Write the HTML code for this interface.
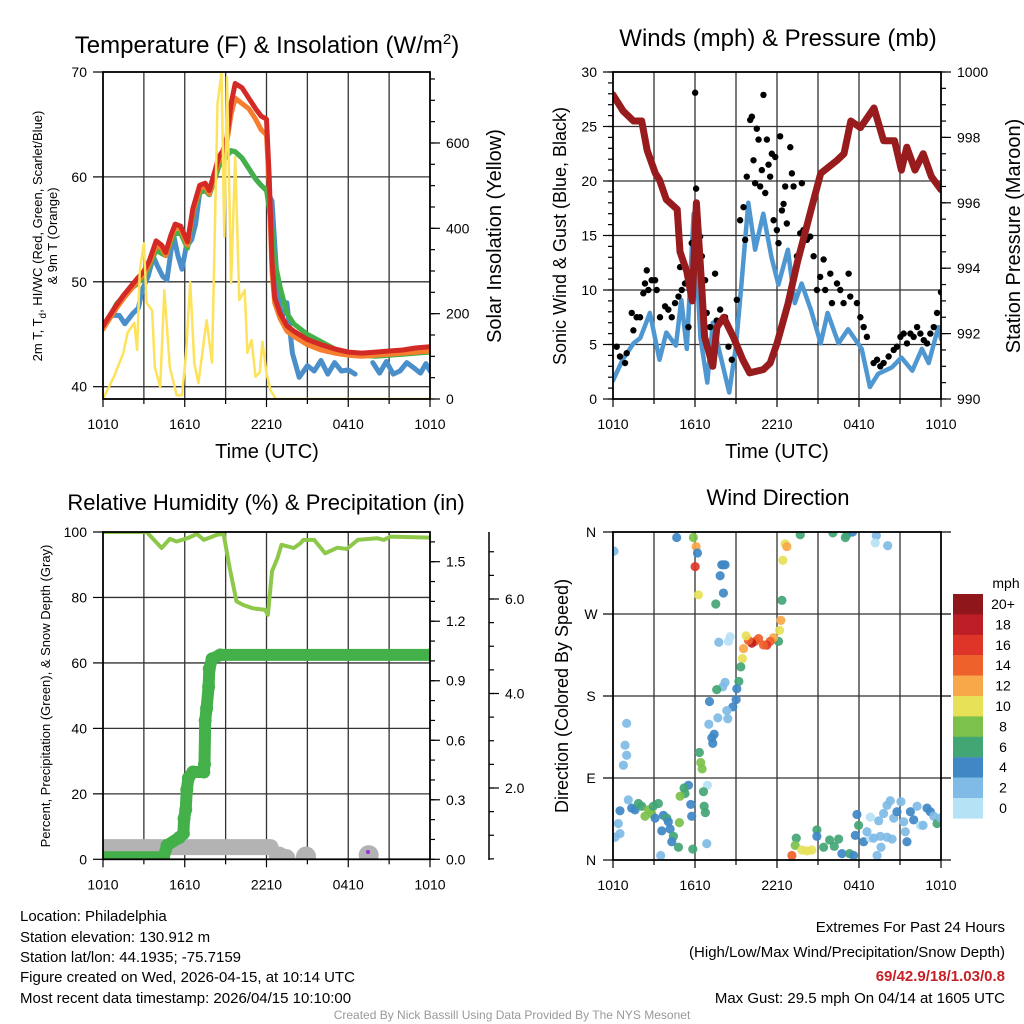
<!DOCTYPE html>
<html><head><meta charset="utf-8"><title>Station meteogram</title>
<style>
html,body{margin:0;padding:0;background:#fff}
svg{display:block;font-family:"Liberation Sans",Arial,sans-serif}
</style></head>
<body>
<svg id="chart" width="1024" height="1024" viewBox="0 0 1024 1024" xmlns="http://www.w3.org/2000/svg">
<rect x="0" y="0" width="1024" height="1024" fill="#fff"/>
<g id="texts" font-family="Liberation Sans, Arial, sans-serif" fill="#000">
<text x="267" y="53" font-size="24" text-anchor="middle">Temperature (F) &amp; Insolation (W/m<tspan dy="-9" font-size="15">2</tspan><tspan dy="9">)</tspan></text>
<text x="778" y="46" font-size="24" text-anchor="middle">Winds (mph) &amp; Pressure (mb)</text>
<text x="266" y="510" font-size="22" text-anchor="middle">Relative Humidity (%) &amp; Precipitation (in)</text>
<text x="778" y="505" font-size="22" text-anchor="middle">Wind Direction</text>
<text x="267" y="458" font-size="20" text-anchor="middle">Time (UTC)</text>
<text x="777" y="458" font-size="20" text-anchor="middle">Time (UTC)</text>
<text transform="translate(42,236) rotate(-90)" font-size="13" text-anchor="middle">2m T, T<tspan dy="4" font-size="10">d</tspan><tspan dy="-4">, HI/WC (Red, Green, Scarlet/Blue)</tspan></text>
<text transform="translate(57,236) rotate(-90)" font-size="13" text-anchor="middle">&amp; 9m T (Orange)</text>
<text transform="translate(501,236) rotate(-90)" font-size="20" text-anchor="middle">Solar Insolation (Yellow)</text>
<text transform="translate(566,236) rotate(-90)" font-size="18" text-anchor="middle">Sonic Wind &amp; Gust (Blue, Black)</text>
<text transform="translate(1020,236) rotate(-90)" font-size="20" text-anchor="middle">Station Pressure (Maroon)</text>
<text transform="translate(50,696) rotate(-90)" font-size="13" text-anchor="middle">Percent, Precipitation (Green), &amp; Snow Depth (Gray)</text>
<text transform="translate(568,696) rotate(-90)" font-size="18" text-anchor="middle">Direction (Colored By Speed)</text>
<g font-size="15">
<text x="20" y="921">Location: Philadelphia</text>
<text x="20" y="942">Station elevation: 130.912 m</text>
<text x="20" y="962">Station lat/lon: 44.1935; -75.7159</text>
<text x="20" y="982">Figure created on Wed, 2026-04-15, at 10:14 UTC</text>
<text x="20" y="1003">Most recent data timestamp: 2026/04/15 10:10:00</text>
</g>
<g font-size="15" text-anchor="end">
<text x="1005" y="932">Extremes For Past 24 Hours</text>
<text x="1005" y="957">(High/Low/Max Wind/Precipitation/Snow Depth)</text>
<text x="1005" y="981" fill="#c62026" font-weight="bold">69/42.9/18/1.03/0.8</text>
<text x="1005" y="1003">Max Gust: 29.5 mph On 04/14 at 1605 UTC</text>
</g>
<text x="512" y="1019" font-size="12" fill="#999" text-anchor="middle">Created By Nick Bassill Using Data Provided By The NYS Mesonet</text>
</g>
</svg>
<script>
// ---------- data ----------
const xTickLabels = ["1010","1610","2210","0410","1010"];
const xTickHours = [0,6,12,18,24];

const redT = [0,1,1.5,2,2.5,3,3.4,3.9,4.3,4.6,5,5.3,5.7,6.2,6.6,7.1,7.5,7.8,8.2,8.5,8.8,9.1,9.4,9.7,10.2,10.7,11.2,11.6,12.0,12.2,12.4,12.6,13,13.5,14,15,16,17,18,19,20,21,22,23,24];
const redV = [45.8,47.8,48.7,49.5,50.3,51,52,53.9,53.5,52.8,54.5,55.5,55.3,53.8,57,59.2,59.4,58.7,60.5,61.9,62.5,63.8,67,68.9,68.5,67.5,66.5,65.8,65.5,60,52,48.5,47,45.8,45.3,44.5,44,43.6,43.3,43.2,43.3,43.4,43.5,43.7,43.8];
const orangeV = [45.5,47.5,48.4,49.2,50,50.7,51.7,53.5,53.2,52.5,54.2,55.2,55,53.5,56.7,58.9,59.1,58.4,60.2,61.6,62.2,63.4,66,67.5,67,66.5,65.5,64.5,64,59,51,48,46.5,45.3,44.8,44,43.5,43.2,43,42.9,43,43.1,43.2,43.3,43.4];
const greenV = [45.5,47.9,48.6,49.3,49.8,50.5,51.5,53,52.7,52.5,53.8,54.6,54.6,53.2,56.5,58.5,58.7,58.3,59.8,61,61.5,62,62.5,62.4,61.8,60.8,59.8,59.2,58.7,57,55,52,49.5,47,46,45,44.3,43.6,43.2,43,42.9,43,43.1,43.2,43.3];
const blueT = [0,0.6,1.2,1.6,2.2,2.6,2.9,3.3,3.7,4.0,4.4,4.7,5.0,5.2,5.5,5.8,6.1,6.5,6.8,7.1,7.5,7.8,8.2,8.5,8.8,9.1,9.4,9.7,10.2,10.7,11.2,11.6,12.0,12.4,12.8,13.1,13.5,13.9,14.4,15,15.5,16,16.5,17,17.5,18,18.5,19.3,19.8,20.3,20.8,21.3,21.8,22.3,22.8,23.3,23.7,24];
const blueV = [45.8,46.8,46.8,46,47,47.5,49.3,50.5,52.4,51.5,50.5,50.2,53,54.3,52.5,51.2,53.3,54,55.5,58.5,58.7,58.3,59.8,61,61.5,62,62.5,62.4,61.8,60.8,59.8,59.2,58.7,57.7,49.6,46.4,48,43.2,40.9,42,41.5,42.5,41.2,42.3,41.5,41.6,41.2,null,42.3,41.3,42.4,41.2,41.5,42.3,41.8,41.3,42.2,41.5,40.2];
const solarT = [0,0.8,1.5,1.8,2.3,2.5,2.7,3.0,3.2,3.6,3.8,4.2,4.5,4.9,5.4,5.8,6.1,6.4,6.7,7.0,7.6,8.0,8.2,8.4,8.7,8.9,9.1,9.4,9.7,10.0,10.4,10.6,10.9,11.2,11.5,11.7,12.0,12.3,12.7,24];
const solarV = [0,52,108,155,178,115,302,365,225,208,75,28,255,75,9,9,108,274,84,37,185,85,380,693,765,380,754,272,567,232,255,108,138,52,62,134,60,20,0,0];

const presT = [0,0.75,1.5,2.1,2.5,3.1,3.4,3.9,4.7,4.9,5.4,5.8,6.1,6.5,6.7,7.3,7.6,8.1,8.8,9.5,10.0,11.0,11.5,12.0,12.8,13.5,14.5,15.2,16.4,16.9,17.4,18.1,19.1,19.8,20.6,21.1,21.5,22.1,22.7,23.3,24];
const presV = [999.3,998.8,998.5,998.5,997.6,996.9,996.7,996.1,995.8,994.5,993.9,993.0,996.0,993.4,991.9,991.0,992.2,992.5,991.9,991.2,990.8,990.9,991.1,991.7,992.9,994.2,995.8,996.9,997.3,997.5,998.5,998.3,998.9,997.9,997.9,997.0,997.7,997.0,997.5,996.8,996.4];
const windT = [0,0.7,1.5,2.0,2.7,3.4,3.9,4.6,5.0,5.4,5.9,6.4,6.9,7.3,7.8,8.5,9.0,9.4,9.9,10.4,11.0,11.6,12.1,12.8,13.3,13.8,14.5,15.2,15.7,16.5,17.2,18.2,18.8,19.4,20.4,21.1,21.9,22.6,23.1,23.8,24];
const windV = [1.7,3.6,5.1,5.6,7.9,3.6,6.1,4.9,9.1,4.6,17,5.6,1.5,7.0,4.3,0.6,4.9,10.6,18,13.7,17,13,10.5,13.7,8.8,10.6,8.1,5.1,7.9,5.1,6.4,4.6,1.1,2.3,2.9,3.8,2.6,4.6,3.3,6.6,5.5];
const gustT = [0.27,0.51,0.88,1.0,1.37,1.49,1.73,1.98,2.22,2.34,2.47,2.59,2.83,3.08,3.2,3.44,3.81,4.05,4.3,4.54,4.79,4.91,5.03,5.27,5.52,5.76,6.01,6.08,6.37,6.5,6.74,6.86,7.11,7.47,7.59,7.84,8.2,8.45,8.69,9.06,9.3,9.55,9.67,9.79,10.04,10.16,10.28,10.4,10.52,10.65,10.77,10.89,11.01,11.14,11.26,11.38,11.5,11.62,11.75,11.87,11.99,12.11,12.23,12.36,12.48,12.6,12.72,12.97,13.09,13.21,13.46,13.7,13.82,13.94,14.19,14.43,14.68,14.92,15.16,15.41,15.53,15.9,16.02,16.39,16.63,16.87,17.24,17.36,17.85,18.1,18.34,18.58,19.07,19.32,19.56,19.8,20.17,20.54,20.78,21.03,21.27,21.51,21.76,22.0,22.25,22.49,22.74,22.98,23.22,23.47,23.71,24];
const gustV = [4.8,3.9,3.3,4.2,7.9,6.3,7.5,7.5,9.7,10.6,11.8,10.0,10.9,10.9,10.0,7.5,8.5,8.2,7.5,8.8,9.4,12.1,10.0,10.6,6.6,14.3,28.1,19.3,14.9,13.1,10.9,7.9,6.6,11.5,7.2,8.2,7.5,4.8,3.6,9.1,16.4,17.6,14.6,20.4,25.6,25.9,21.9,19.8,24.8,23.8,19.5,21.0,27.9,18.9,23.8,21.5,20.4,22.5,16.4,22.2,15.5,14.3,24.1,17.3,17.9,19.5,16.1,23.1,20.7,19.5,13.1,15.2,19.8,15.5,14.6,14.9,13.1,10.0,11.2,12.8,10.0,11.5,8.8,10.6,10.0,8.8,11.5,9.4,8.8,7.5,6.6,5.7,3.3,3.6,3.0,3.3,3.9,4.5,4.8,5.7,6.0,5.1,6.0,5.7,6.6,6.0,5.4,5.1,6.0,6.6,7.9,9.8];

const rhT = [0,3.2,4.3,4.9,5.4,6.2,6.9,7.4,8.4,8.85,9.3,9.8,10.3,11.0,11.9,12.1,12.4,12.8,13.1,14.0,14.5,14.7,15.5,16.3,17.2,17.9,18.7,20.1,20.6,21.1,24];
const rhV = [100,100,95.1,97.9,97.1,98.1,99.4,97.6,99.2,99.4,89,78.8,77.7,76.7,76.2,74.7,88,92,96.1,95.1,96.6,97.6,97.6,93.5,95.2,94.8,97.6,98.1,97.6,98.6,98.3];
const precipT = [0,4.45,4.7,5.6,5.9,5.95,6.07,6.15,6.27,6.6,7.4,7.45,7.5,7.6,7.75,7.8,8.0,8.6,24];
const precipV = [0.01,0.01,0.07,0.11,0.13,0.205,0.25,0.35,0.41,0.44,0.44,0.48,0.70,0.76,0.87,0.96,1.01,1.03,1.03];
const snowT = [0,12.3];
const snowV = [0.75,0.75];
const snowBlobT = [12.9,13.4,14.9,19.5];
const snowBlobV = [0.55,0.5,0.55,0.58];

const dirT = [0.07,4.66,5.88,6.08,6.18,6.01,6.25,8.08,7.96,8.2,7.84,8.08,7.52,13.7,16.09,17.0,17.12,17.53,19.27,19.19,20.1,12.6,12.72,12.43,12.36,12.28,12.19,12.11,11.75,11.5,11.26,11.01,10.65,10.4,10.16,9.91,9.74,9.55,9.47,9.35,9.21,9.06,9.01,8.77,8.33,8.2,8.03,7.59,8.57,8.45,7.74,7.06,7.67,8.4,7.01,7.4,7.23,7.3,6.32,6.42,6.52,1.0,0.88,1.0,0.76,6.91,5.52,5.2,5.27,4.91,6.62,5.69,6.67,6.76,5.76,4.86,4.18,3.57,4.42,4.3,4.79,5.84,6.86,3.49,0.15,0.51,0.39,0.51,1.12,1.37,1.61,1.86,2.1,2.34,2.59,2.83,3.08,3.32,3.69,3.93,4.05,2.95,13.09,13.41,13.33,13.82,14.19,14.55,14.92,14.92,15.41,15.85,16.19,16.51,16.75,17.31,17.61,17.97,17.73,17.85,18.34,18.83,19.07,18.83,19.32,19.61,19.44,19.8,20.05,20.29,20.54,20.78,21.07,21.27,21.39,21.51,21.76,22.0,22.25,22.49,22.69,22.98,23.22,23.47,23.71,23.96,20.05,19.56,20.42,18.58];
const dirV = [339,354,354,344,337,322,291,324,324,324,312,293,281,357,359,354,357,360,356,348,345,347,344,329,285,263,252,240,244,240,236,236,243,240,238,241,246,232,221,212,196,188,176,168,164,195,190,187,245,240,239,174,156,155,149,138,134,128,118,107,100,150,126,115,104,82,82,79,73,70,75,61,59,52,48,41,34,32,26,20,14,12,18,5,25,29,40,54,66,57,55,62,59,48,55,51,46,62,49,46,42,59,5,24,16,11,10,11,33,26,14,22,15,23,7,7,5,38,27,50,20,24,24,47,5,14,43,51,60,65,46,53,64,42,31,20,53,44,59,38,38,57,53,48,40,46,25,26,23,31];
const dirSpeed = [3,5,9,13,5,17,11,5,5,5,5,5,7,7,7,7,7,5,3,1,3,11,13,11,7,13,11,7,13,15,17,15,15,15,19,15,11,13,11,7,7,5,5,5,3,3,3,7,1,1,3,5,3,3,3,5,5,5,7,9,9,3,3,3,3,1,5,7,7,9,7,5,7,7,5,9,5,5,7,5,7,7,3,3,3,3,3,5,3,5,5,7,7,9,9,9,5,7,5,7,5,7,15,7,9,11,11,11,7,5,7,7,7,7,5,7,5,7,5,5,5,1,3,1,3,3,3,3,3,3,3,5,3,3,3,5,5,5,3,1,3,5,5,3,7,3,3,3,3,3];

const speedBinLabels = ["20+","18","16","14","12","10","8","6","4","2","0"];
const speedBinColors = ["#8f161a","#bd1d24","#df3529","#ef612a","#f8a848","#e6e157","#7cc14b","#42a574","#3f88c5","#7fbbe6","#b6e2f5"];

// ---------- helpers ----------
const NS = "http://www.w3.org/2000/svg";
const svg = document.getElementById("chart");
function mk(tag, attrs, parent){
  const e = document.createElementNS(NS, tag);
  for (const k in attrs) e.setAttribute(k, attrs[k]);
  (parent||svg).appendChild(e);
  return e;
}
function panel(x0,y0,w,h){ return {x0,y0,w,h, x:t=>x0+t/24*w}; }
const P1 = panel(103,72,327,327), P2 = panel(613,72,328,327), P3 = panel(103,532,327,327.3), P4 = panel(613,532,328,328);
const yTemp = v=>386.7-(v-40)*10.49, ySolar = v=>399-v*0.4267;
const yWind = v=>399-v*10.9, yPres = v=>399-(v-990)*32.7;
const yRH = v=>859.3-v*3.273, yPrecip = v=>859.3-v*198.4, ySnow = v=>882.5-v*47.25;
const yDir = v=>860-v/360*328;

function grid(P, yvals, yf, name){
  const g = mk("g",{stroke:"#333","stroke-width":1.3});
  
  
  for (let t=3;t<24;t+=3){
    const l = mk("line",{x1:P.x(t),x2:P.x(t),y1:P.y0,y2:P.y0+P.h},g);
    
    
  }
  yvals.forEach(v=>{
    const l = mk("line",{x1:P.x0,x2:P.x0+P.w,y1:yf(v),y2:yf(v)},g);
    
    
  });
}
function frame(P,name){
  const r = mk("rect",{x:P.x0,y:P.y0,width:P.w,height:P.h,fill:"none",stroke:"#000","stroke-width":1.8});
  
  
  const g = mk("g",{"font-size":14,"text-anchor":"middle"});
  
  
  for (let t=0;t<=24;t+=3){
    mk("line",{x1:P.x(t),x2:P.x(t),y1:P.y0+P.h,y2:P.y0+P.h+(t%6===0?8:5),stroke:"#000","stroke-width":1.2},g);
  }
  xTickHours.forEach((t,i)=>{
    const tx = mk("text",{x:P.x(t),y:P.y0+P.h+30},g);
    tx.textContent = xTickLabels[i];
    
    
  });
}
function yAxis(xLine, dir, majors, fmt, yf, minors, name, labelOff){
  const g = mk("g",{"font-size":14,"text-anchor":dir<0?"end":"start"});
  
  
  (minors||[]).forEach(v=>mk("line",{x1:xLine,x2:xLine+dir*5,y1:yf(v),y2:yf(v),stroke:"#000","stroke-width":1.2},g));
  majors.forEach(v=>{
    mk("line",{x1:xLine,x2:xLine+dir*10,y1:yf(v),y2:yf(v),stroke:"#000","stroke-width":1.2},g);
    const tx = mk("text",{x:xLine+dir*(labelOff||16),y:yf(v)+5},g);
    tx.textContent = fmt(v);
    
    
  });
}
function path(P, ts, vs, yf, color, width, name, clipId, extra){
  let d="", pen=false;
  ts.forEach((t,i)=>{
    const v = vs[i];
    if (v===null||v===undefined){ pen=false; return; }
    d += (pen?"L":"M")+P.x(t).toFixed(1)+","+yf(v).toFixed(1);
    pen=true;
  });
  const p = mk("path",Object.assign({d:d,fill:"none",stroke:color,"stroke-width":width,"stroke-linejoin":"round","stroke-linecap":"round","clip-path":"url(#"+clipId+")"},extra||{}));
  
  
  return p;
}
function range(a,b,s){ const r=[]; for(let v=a; v<=b+1e-9; v+=s) r.push(+v.toFixed(3)); return r; }

const defs = mk("defs",{});
[["c1",P1],["c2",P2],["c3",P3],["c4",P4]].forEach(([id,P])=>{
  const cp = mk("clipPath",{id:id},defs);
  mk("rect",{x:P.x0,y:P.y0,width:P.w,height:P.h},cp);
});

// ---------- panel 1 ----------
grid(P1,[40,50,60],yTemp,"temperature");
path(P1,blueT,blueV,yTemp,"#4a8fca",5,"wind-chill-line","c1");
path(P1,redT,greenV,yTemp,"#44b049",5,"dewpoint-line","c1");
path(P1,redT,orangeV,yTemp,"#f57f2e",5,"temp-9m-line","c1");
path(P1,redT,redV,yTemp,"#d42a26",5,"temp-2m-line","c1");
path(P1,solarT,solarV,ySolar,"#fde25b",2.5,"solar-insolation-line","c1");
frame(P1,"temperature");
yAxis(103,-1,[40,50,60,70],v=>String(v),yTemp,[],"temperature-y-axis");
yAxis(430,1,[0,200,400,600],v=>String(v),ySolar,range(0,750,50),"solar-y-axis");

// ---------- panel 2 ----------
grid(P2,[5,10,15,20,25],yWind,"winds");
path(P2,windT,windV,yWind,"#4f97d1",4.5,"sonic-wind-line","c2");
const gg = mk("g",{fill:"#000","clip-path":"url(#c2)"});


gustT.forEach((t,i)=>{
  const c = mk("circle",{cx:P2.x(t),cy:yWind(gustV[i]),r:3.2},gg);
  
  
});
path(P2,presT,presV,yPres,"#981b1e",7,"pressure-line","c2");
frame(P2,"winds");
yAxis(613,-1,[0,5,10,15,20,25,30],v=>String(v),yWind,range(0,30,1),"wind-y-axis");
yAxis(941,1,[990,992,994,996,998,1000],v=>String(v),yPres,range(990,1000,0.5),"pressure-y-axis");

// ---------- panel 3 ----------
grid(P3,[20,40,60,80],yRH,"humidity");
path(P3,snowT,snowV,ySnow,"#b3b3b3",16,"snow-depth-line","c3",{"stroke-linecap":"round"});
const sb = mk("g",{fill:"#b3b3b3","clip-path":"url(#c3)"});


snowBlobT.forEach((t,i)=>{
  const c = mk("circle",{cx:P3.x(t),cy:ySnow(snowBlobV[i]),r:10},sb);
  
  
});
const pd = mk("circle",{cx:368,cy:852,r:2,fill:"#9b30e0"});


path(P3,precipT,precipV,yPrecip,"#44b049",12,"precipitation-line","c3");
const pg = mk("g",{fill:"#44b049","clip-path":"url(#c3)"});


precipT.forEach((t,i)=>{
  const c = mk("circle",{cx:P3.x(t),cy:yPrecip(precipV[i]),r:6.5},pg);
  
  
});
path(P3,rhT,rhV,yRH,"#8dc84b",4,"relative-humidity-line","c3");
frame(P3,"humidity");
yAxis(103,-1,[0,20,40,60,80,100],v=>String(v),yRH,[],"humidity-y-axis");
yAxis(430,1,[0,0.3,0.6,0.9,1.2,1.5],v=>v.toFixed(1),yPrecip,range(0,1.6,0.1),"precipitation-y-axis");
const sl = mk("line",{x1:489,x2:489,y1:532,y2:860,stroke:"#000","stroke-width":1.5});


yAxis(489,1,[2,4,6],v=>v.toFixed(1),ySnow,range(0.5,7,0.5),"snow-depth-y-axis");

// ---------- panel 4 ----------
grid(P4,[90,180,270],yDir,"direction");
const dg = mk("g",{"clip-path":"url(#c4)"});


function speedColor(s){ const i = Math.min(10,Math.floor((s||0)/2)); return speedBinColors[10-i]; }
dirT.forEach((t,i)=>{
  const c = mk("circle",{cx:P4.x(t),cy:yDir(dirV[i]),r:4.6,fill:speedColor(dirSpeed[i]),"fill-opacity":0.92},dg);
  
  
});
frame(P4,"direction");
const dirLabels = ["N","E","S","W","N"];
const dirVals = [0,90,180,270,360];
const da = mk("g",{"font-size":14,"text-anchor":"middle"});


dirVals.forEach((v,i)=>{
  mk("line",{x1:613,x2:603,y1:yDir(v),y2:yDir(v),stroke:"#000","stroke-width":1.2},da);
  mk("line",{x1:941,x2:951,y1:yDir(v),y2:yDir(v),stroke:"#000","stroke-width":1.2},da);
  const tx = mk("text",{x:591,y:yDir(v)+5},da);
  tx.textContent = dirLabels[i];
  
  
});

// colorbar
const cb = mk("g",{"font-size":14,"text-anchor":"middle"});


const cbt = mk("text",{x:1006,y:588},cb);
cbt.textContent = "mph";


speedBinLabels.forEach((lab,i)=>{
  const y = 594 + i*20.4;
  const r = mk("rect",{x:953,y:y,width:30,height:20.6,fill:speedBinColors[i]},cb);
  
  
  const tx = mk("text",{x:1003,y:y+15},cb);
  tx.textContent = lab;
  
  
});
</script>
</body></html>
